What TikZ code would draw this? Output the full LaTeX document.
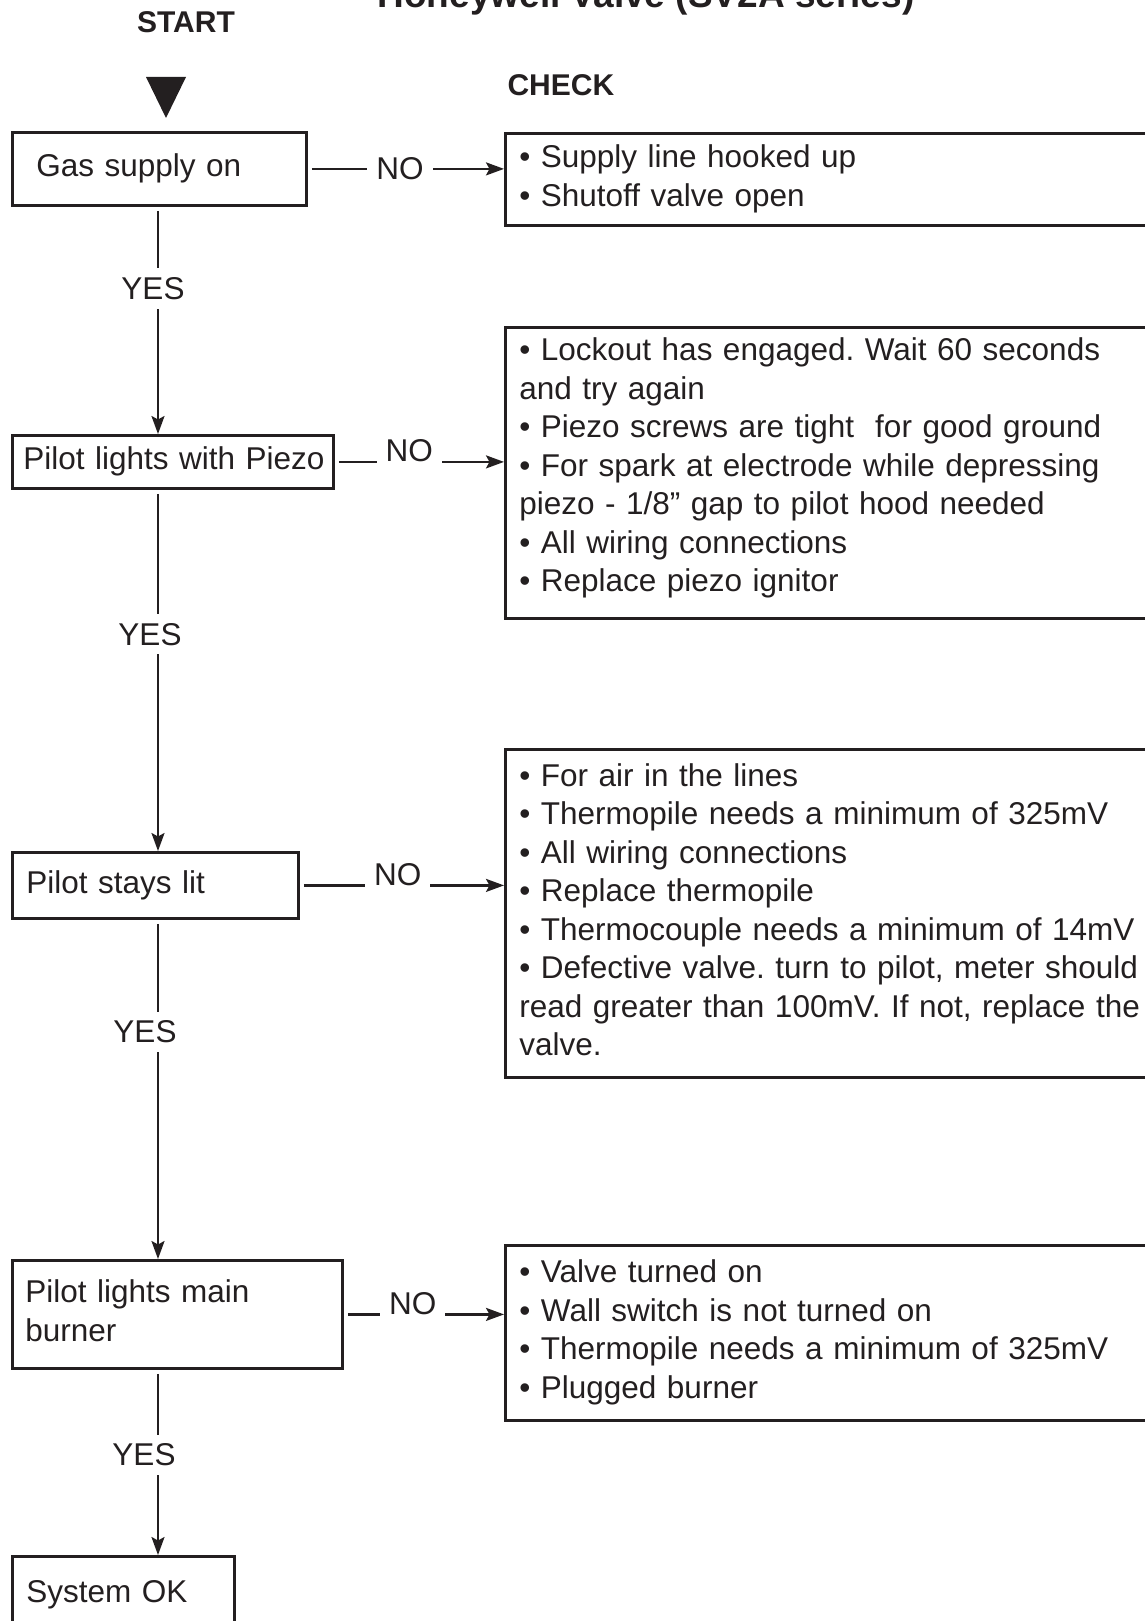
\documentclass[tikz,border=0pt]{standalone}
\usepackage{fontspec}
\setmainfont{Liberation Sans}
\usetikzlibrary{arrows.meta}
\definecolor{ink}{RGB}{35,31,32}
\newcommand{\flowfont}{\fontsize{31.5}{38.5}\selectfont}
\frenchspacing
\tikzset{
	stepbox/.style={rectangle,draw=ink,line width=2.8pt,anchor=north west,align=left,inner ysep=0pt,font=\flowfont,text=ink,execute at begin node=\strut,execute at end node=\strut},
	checkbox/.style={stepbox,inner xsep=14pt,text width=700pt},
	flowline/.style={draw=ink,line width=2.3pt,shorten <=4pt,-{Stealth[length=18pt,width=13pt,inset=3.5pt]}},
	nolabel/.style={fill=white,font=\flowfont,text=ink,inner xsep=9pt,inner ysep=4pt},
	yeslabel/.style={fill=white,font=\flowfont,text=ink,inner xsep=4pt,inner ysep=9pt},
	headstyle/.style={font=\fontsize{30}{36}\selectfont\bfseries,text=ink}
}
\begin{document}
\begin{tikzpicture}[x=1pt,y=-1pt]
	\useasboundingbox (0,0) rectangle (1144,1621);
	\node[headstyle,font=\fontsize{37}{44}\selectfont\bfseries,anchor=base] (title) at (646,8) {Honeywell Valve (SV2A series)};
	\node[headstyle,anchor=base] (start) at (186,33) {START};
	\node[headstyle,anchor=base west] (check) at (504,96) {CHECK};
	\coordinate (spine) at (158,0);
	\coordinate (mark) at (166,77);
	\fill[ink] (mark) ++(-20,0) -- ++(40,0) -- ++(-20,41) -- cycle;
	\node[stepbox,inner xsep=24pt,text width=246pt,minimum height=73pt] (gas) at (11,131) {Gas supply on};
	\node[stepbox,inner xsep=11pt,text width=299pt,minimum height=53pt] (piezo) at (11,434) {\mbox{Pilot lights with Piezo}};
	\node[stepbox,inner xsep=14pt,text width=258pt,minimum height=66pt] (lit) at (11,851) {Pilot stays lit};
	\node[stepbox,inner xsep=13pt,text width=304pt,minimum height=108pt] (burner) at (11,1259) {Pilot lights main\\burner};
	\node[stepbox,inner xsep=14pt,text width=194pt,minimum height=76pt] (sysok) at (11,1555) {System OK};
	\node[checkbox,minimum height=92pt] (chkgas) at (504,132) {• Supply line hooked up\\• Shutoff valve open};
	\node[checkbox,minimum height=291pt] (chkpiezo) at (504,326) {• Lockout has engaged. Wait 60 seconds\\and try again\\• Piezo screws are tight\ \ for good ground\\• For spark at electrode while depressing\\piezo - 1/8” gap to pilot hood needed\\• All wiring connections\\• Replace piezo ignitor\rule[-20pt]{0pt}{0pt}};
	\node[checkbox,minimum height=328pt] (chklit) at (504,748) {• For air in the lines\\• Thermopile needs a minimum of 325mV\\• All wiring connections\\• Replace thermopile\\• Thermocouple needs a minimum of 14mV\\• Defective valve. turn to pilot, meter should\\read greater than 100mV. If not, replace the\\valve.};
	\node[checkbox,minimum height=175pt] (chkburner) at (504,1244) {• Valve turned on\\• Wall switch is not turned on\\• Thermopile needs a minimum of 325mV\\• Plugged burner};
	\draw[flowline] (gas.east) -- node[nolabel,pos=0.47] (no1) {NO} (gas.east -| chkgas.west);
	\draw[flowline] (piezo.east) -- node[nolabel,anchor=base,pos=0.44] (no2) {NO} (piezo.east -| chkpiezo.west);
	\draw[flowline] (lit.east) -- node[nolabel,anchor=base,pos=0.48] (no3) {NO} (lit.east -| chklit.west);
	\draw[flowline] (burner.east) -- node[nolabel,anchor=base,pos=0.43] (no4) {NO} (burner.east -| chkburner.west);
	\draw[flowline] (gas.south -| spine) -- node[yeslabel,pos=0.36,xshift=-5pt] (yes1) {YES} (piezo.north -| spine);
	\draw[flowline] (piezo.south -| spine) -- node[yeslabel,pos=0.40,xshift=-8pt] (yes2) {YES} (lit.north -| spine);
	\draw[flowline] (lit.south -| spine) -- node[yeslabel,pos=0.33,xshift=-13pt] (yes3) {YES} (burner.north -| spine);
	\draw[flowline] (burner.south -| spine) -- node[yeslabel,pos=0.46,xshift=-14pt] (yes4) {YES} (sysok.north -| spine);
\end{tikzpicture}
\end{document}
